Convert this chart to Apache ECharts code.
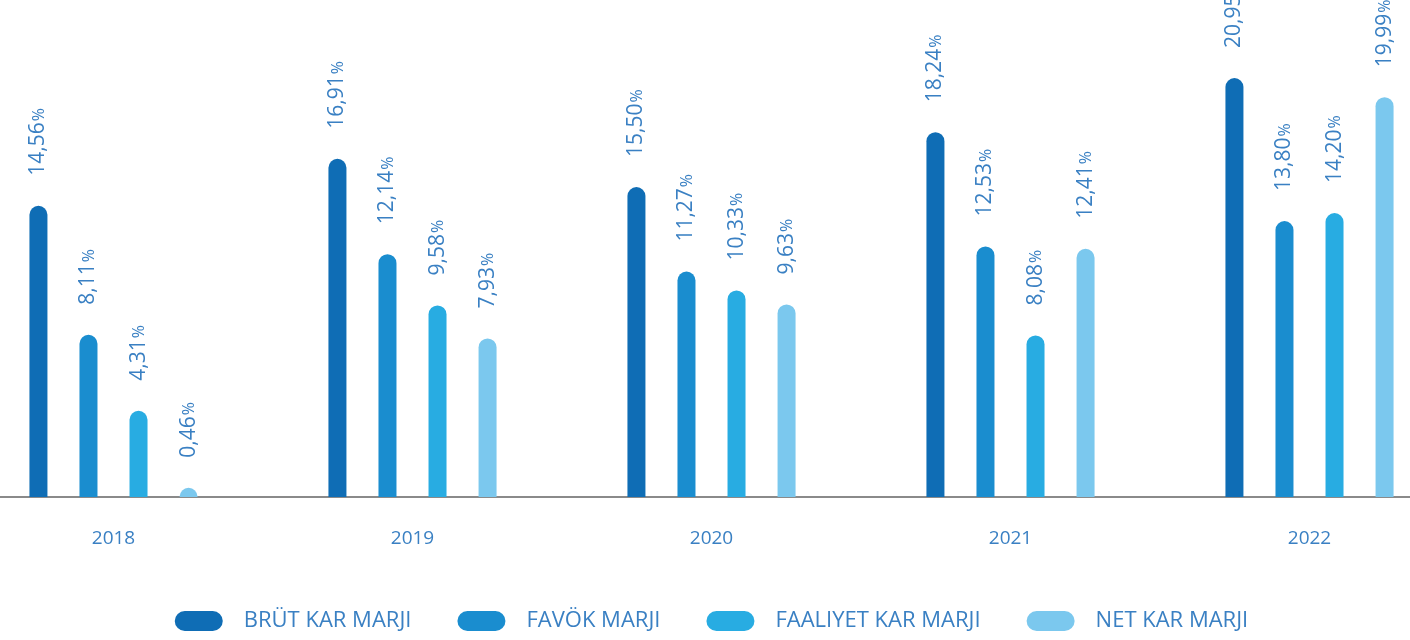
<!DOCTYPE html>
<html>
<head>
<meta charset="utf-8">
<script src="https://cdn.jsdelivr.net/npm/echarts@6/dist/echarts.min.js"></script>
<style>
  html, body { margin: 0; padding: 0; background: #fff; overflow: hidden; }
  /* chart is wider than the window: the outer categories get cut at the edges */
  #main { width: 1495px; height: 640px; margin-left: -36px; }
</style>
</head>
<body>
<div id="main"></div>
<script>
// data
var years = ['2018', '2019', '2020', '2021', '2022'];
var seriesNames = ['BRÜT KAR MARJI', 'FAVÖK MARJI', 'FAALIYET KAR MARJI', 'NET KAR MARJI'];
var brut     = [14.56, 16.91, 15.50, 18.24, 20.95];
var favok    = [8.11, 12.14, 11.27, 12.53, 13.80];
var faaliyet = [4.31, 9.58, 10.33, 8.08, 14.20];
var net      = [0.46, 7.93, 9.63, 12.41, 19.99];

var colors = ['#0f6db5', '#1a8dcf', '#28ace2', '#7bc8ee'];
var textColor = '#3a80c3';
var fontFam = '"Open Sans", "Noto Sans", sans-serif';

function makeSeries(name, data, color) {
  return {
    name: name,
    type: 'bar',
    data: data,
    barWidth: 18,
    barGap: '178%',
    itemStyle: {
      color: color,
      borderRadius: [9, 9, 0, 0]
    },
    label: {
      show: true,
      position: 'top',
      rotate: 90,
      align: 'left',
      verticalAlign: 'middle',
      distance: 30,
      formatter: function (p) {
        return '{n|' + p.value.toFixed(2).replace('.', ',') + '}{p|%}';
      },
      rich: {
        n: { fontSize: 21, color: textColor, fontFamily: fontFam },
        p: { fontSize: 16, color: textColor, fontFamily: fontFam, padding: [2, 0, 0, 1] }
      }
    }
  };
}

var chart = echarts.init(document.getElementById('main'));

chart.setOption({
  animation: false,
  legend: {
    bottom: 3,
    left: 'center',
    itemWidth: 48,
    itemHeight: 20,
    itemGap: 46,
    icon: 'path://M10,0 H38 A10,10 0 0 1 38,20 H10 A10,10 0 0 1 10,0 Z',
    textStyle: {
      color: textColor,
      fontSize: 22,
      fontFamily: fontFam,
      padding: [0, 0, 0, 16]
    },
    data: seriesNames
  },
  grid: {
    left: 0,
    right: 0,
    top: 17,
    bottom: 143
  },
  xAxis: {
    type: 'category',
    data: years,
    axisLine: { lineStyle: { color: '#8a8a8a', width: 2 } },
    axisTick: { show: false },
    axisLabel: {
      margin: 32,
      color: textColor,
      fontSize: 19,
      fontFamily: fontFam
    }
  },
  yAxis: {
    type: 'value',
    min: 0,
    max: 24,
    show: false,
    splitLine: { show: false }
  },
  series: [
    makeSeries(seriesNames[0], brut, colors[0]),
    makeSeries(seriesNames[1], favok, colors[1]),
    makeSeries(seriesNames[2], faaliyet, colors[2]),
    makeSeries(seriesNames[3], net, colors[3])
  ]
});
</script>
</body>
</html>
